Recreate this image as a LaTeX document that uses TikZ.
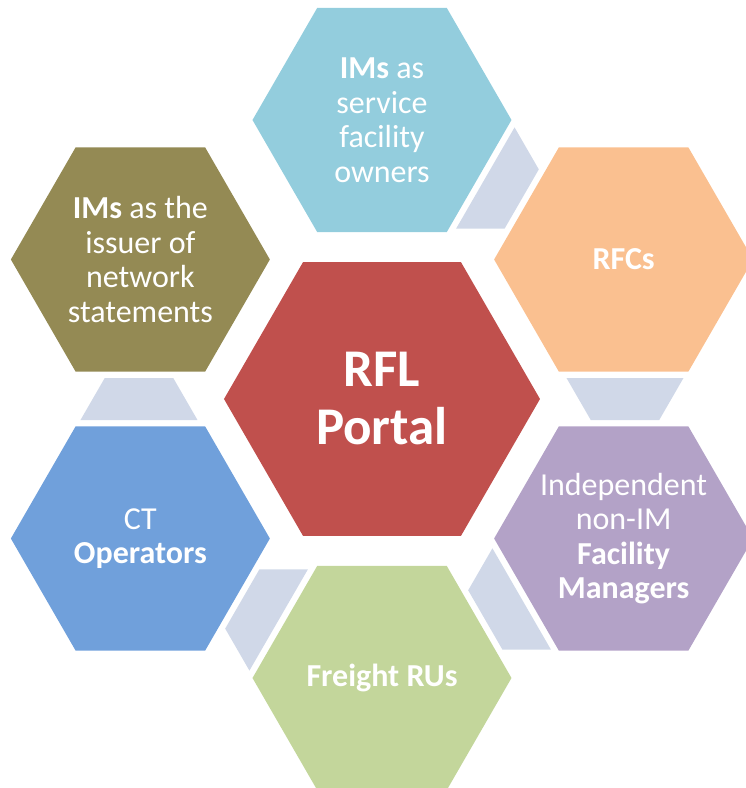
\documentclass[tikz,border=0pt]{standalone}
\usepackage{fontspec}
\setmainfont{Carlito}
\usetikzlibrary{shapes.geometric}

\definecolor{portalred}{HTML}{C0504D}
\definecolor{ownerblue}{HTML}{93CDDD}
\definecolor{rfcorange}{HTML}{FAC090}
\definecolor{fmpurple}{HTML}{B3A2C7}
\definecolor{rugreen}{HTML}{C3D69B}
\definecolor{ctblue}{HTML}{70A0DB}
\definecolor{nsolive}{HTML}{948A54}
\definecolor{connblue}{HTML}{D0D8E8}

\begin{document}
\begin{tikzpicture}[x=1pt,y=1pt,
	hexa/.style={shape=regular polygon,regular polygon sides=6,
		minimum size=259pt,inner sep=0pt},
	hextext/.style={text=white,align=center,inner sep=0pt,
		font=\fontsize{32}{34.5}\selectfont},
	conn/.style={fill=connblue}]
	\useasboundingbox (-382,-389) rectangle (364,399);

	\node[hexa,fill=portalred,minimum size=316pt,
		label={[hextext,font=\fontsize{53}{58}\selectfont\bfseries]center:RFL\\Portal}] (p) at (0, 0) {};
	\node[hexa,fill=ownerblue,label={[hextext]center:\textbf{IMs} as\\service\\facility\\owners}] (o) at (90:279) {};
	\node[hexa,fill=rfcorange,label={[hextext]center:\textbf{RFCs}}] (r) at (30:279) {};
	\node[hexa,fill=fmpurple,label={[hextext]center:Independent\\non-IM\\\textbf{Facility}\\\textbf{Managers}}] (f) at (-30:279) {};
	\node[hexa,fill=rugreen,label={[hextext]center:\textbf{Freight RUs}}] (u) at (-90:279) {};
	\node[hexa,fill=ctblue,label={[hextext]center:CT\\\textbf{Operators}}] (c) at (-150:279) {};
	\node[hexa,fill=nsolive,label={[hextext]center:\textbf{IMs} as the\\issuer of\\network\\statements}] (n) at (150:279) {};

	% links between the outer hexagons
	\coordinate (or) at (60:243);
	\coordinate (rf) at (0:243);
	\coordinate (fu) at (-60:243);
	\coordinate (uc) at (-120:243);
	\coordinate (cn) at (180:243);
	\foreach \l/\a in {or/60,rf/0,fu/-60,uc/-120,cn/180}
		\fill[conn,shift={(\l)},rotate=\a] (-58.5,21) -- (58.5,21) -- (34.25,-21) -- (-34.25,-21) -- cycle;
\end{tikzpicture}
\end{document}
